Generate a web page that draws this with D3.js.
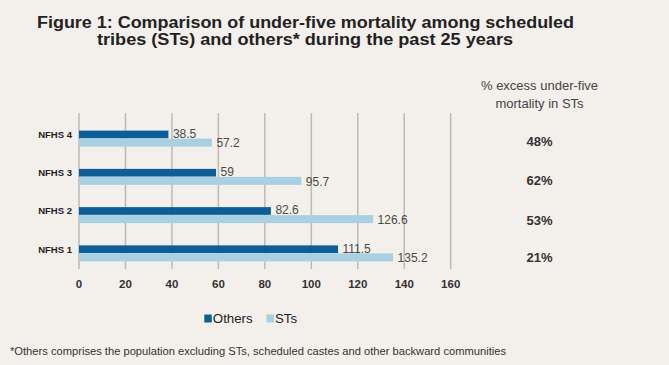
<!DOCTYPE html>
<html><head><meta charset="utf-8">
<script src="https://cdn.jsdelivr.net/npm/d3@7"></script>
<style>
html,body{margin:0;padding:0;background:#f3f0eb;}
svg{display:block;font-family:"Liberation Sans",Arial,Helvetica,sans-serif;}
</style></head>
<body>
<svg id="chart" width="669" height="365"></svg>
<script>
const categories = ["NFHS 4", "NFHS 3", "NFHS 2", "NFHS 1"];
const others = [38.5, 59, 82.6, 111.5];
const sts = [57.2, 95.7, 126.6, 135.2];
const excess = ["48%", "62%", "53%", "21%"];
const xTicks = [0, 20, 40, 60, 80, 100, 120, 140, 160];
const seriesNames = ["Others", "STs"];
const colors = ["#0a5f9a", "#a8d0e0"];

const svg = d3.select("#chart");
svg.append("rect").attr("width", 669).attr("height", 365).attr("fill", "#f3f0eb");

// Title
svg.append("text").attr("x", 37).attr("y", 28).attr("fill", "#222")
  .attr("font-size", 16).attr("font-weight", "bold")
  .attr("textLength", 537).attr("lengthAdjust", "spacingAndGlyphs")
  .text("Figure 1: Comparison of under-five mortality among scheduled");
svg.append("text").attr("x", 97).attr("y", 44.5).attr("fill", "#222")
  .attr("font-size", 16).attr("font-weight", "bold")
  .attr("textLength", 416).attr("lengthAdjust", "spacingAndGlyphs")
  .text("tribes (STs) and others* during the past 25 years");

const x = d3.scaleLinear().domain([0, 160]).range([79, 450.7]);
const y = d3.scalePoint().domain(categories).range([119.5, 272.5]).padding(0.5);
const barH = 8;

// Gridlines
svg.append("g").selectAll("line").data(xTicks).join("line")
  .attr("x1", d => x(d)).attr("x2", d => x(d))
  .attr("y1", 113).attr("y2", 269)
  .attr("stroke", "#bdbab6").attr("stroke-width", 1.5);

// X axis labels
svg.append("g").selectAll("text").data(xTicks).join("text")
  .attr("x", d => x(d)).attr("y", 287.5)
  .attr("text-anchor", "middle").attr("font-size", 11.5).attr("font-weight", "bold")
  .attr("fill", "#333").text(d => d);

// Bars
const groups = svg.append("g").selectAll("g").data(categories).join("g");
groups.append("rect")
  .attr("x", x(0)).attr("y", d => y(d) - barH)
  .attr("width", (d, i) => x(others[i]) - x(0)).attr("height", barH - 0.3)
  .attr("fill", colors[0]);
groups.append("rect")
  .attr("x", x(0)).attr("y", d => y(d))
  .attr("width", (d, i) => x(sts[i]) - x(0)).attr("height", barH)
  .attr("fill", colors[1]);

// Value labels
groups.append("text")
  .attr("x", (d, i) => x(others[i]) + 4.5).attr("y", d => y(d) - barH / 2 - 1)
  .attr("dy", "0.35em").attr("font-size", 12).attr("fill", "#4a4a4a")
  .text((d, i) => others[i]);
groups.append("text")
  .attr("x", (d, i) => x(sts[i]) + 4.5).attr("y", d => y(d) + barH / 2 + 0.5)
  .attr("dy", "0.35em").attr("font-size", 12).attr("fill", "#4a4a4a")
  .text((d, i) => sts[i]);

// Category labels
groups.append("text")
  .attr("x", 72).attr("y", d => y(d) - barH / 2)
  .attr("dy", "0.35em").attr("text-anchor", "end")
  .attr("font-size", 9.5).attr("font-weight", "bold").attr("fill", "#222")
  .text(d => d);

// Right column
svg.append("text").attr("x", 539.5).attr("y", 90).attr("text-anchor", "middle")
  .attr("font-size", 13).attr("fill", "#444").text("% excess under-five");
svg.append("text").attr("x", 539.5).attr("y", 108).attr("text-anchor", "middle")
  .attr("font-size", 13).attr("fill", "#444").text("mortality in STs");
groups.append("text")
  .attr("x", 539.5).attr("y", (d, i) => y(d) + [3, 3.5, 5, 4][i])
  .attr("dy", "0.35em").attr("text-anchor", "middle")
  .attr("font-size", 13).attr("font-weight", "bold").attr("fill", "#333")
  .text((d, i) => excess[i]);

// Legend
const legX = [204.3, 266.5];
const leg = svg.append("g").selectAll("g").data(seriesNames).join("g");
leg.append("rect").attr("x", (d, i) => legX[i]).attr("y", 314.5)
  .attr("width", 7.5).attr("height", 8).attr("fill", (d, i) => colors[i]);
leg.append("text").attr("x", (d, i) => legX[i] + 8.5).attr("y", 318.5)
  .attr("dy", "0.35em").attr("font-size", 13.3).attr("fill", "#222")
  .text(d => d);

// Footnote
svg.append("text").attr("x", 10).attr("y", 354.5).attr("font-size", 11)
  .attr("fill", "#333").attr("textLength", 496).attr("lengthAdjust", "spacingAndGlyphs")
  .text("*Others comprises the population excluding STs, scheduled castes and other backward communities");
</script>
</body></html>
